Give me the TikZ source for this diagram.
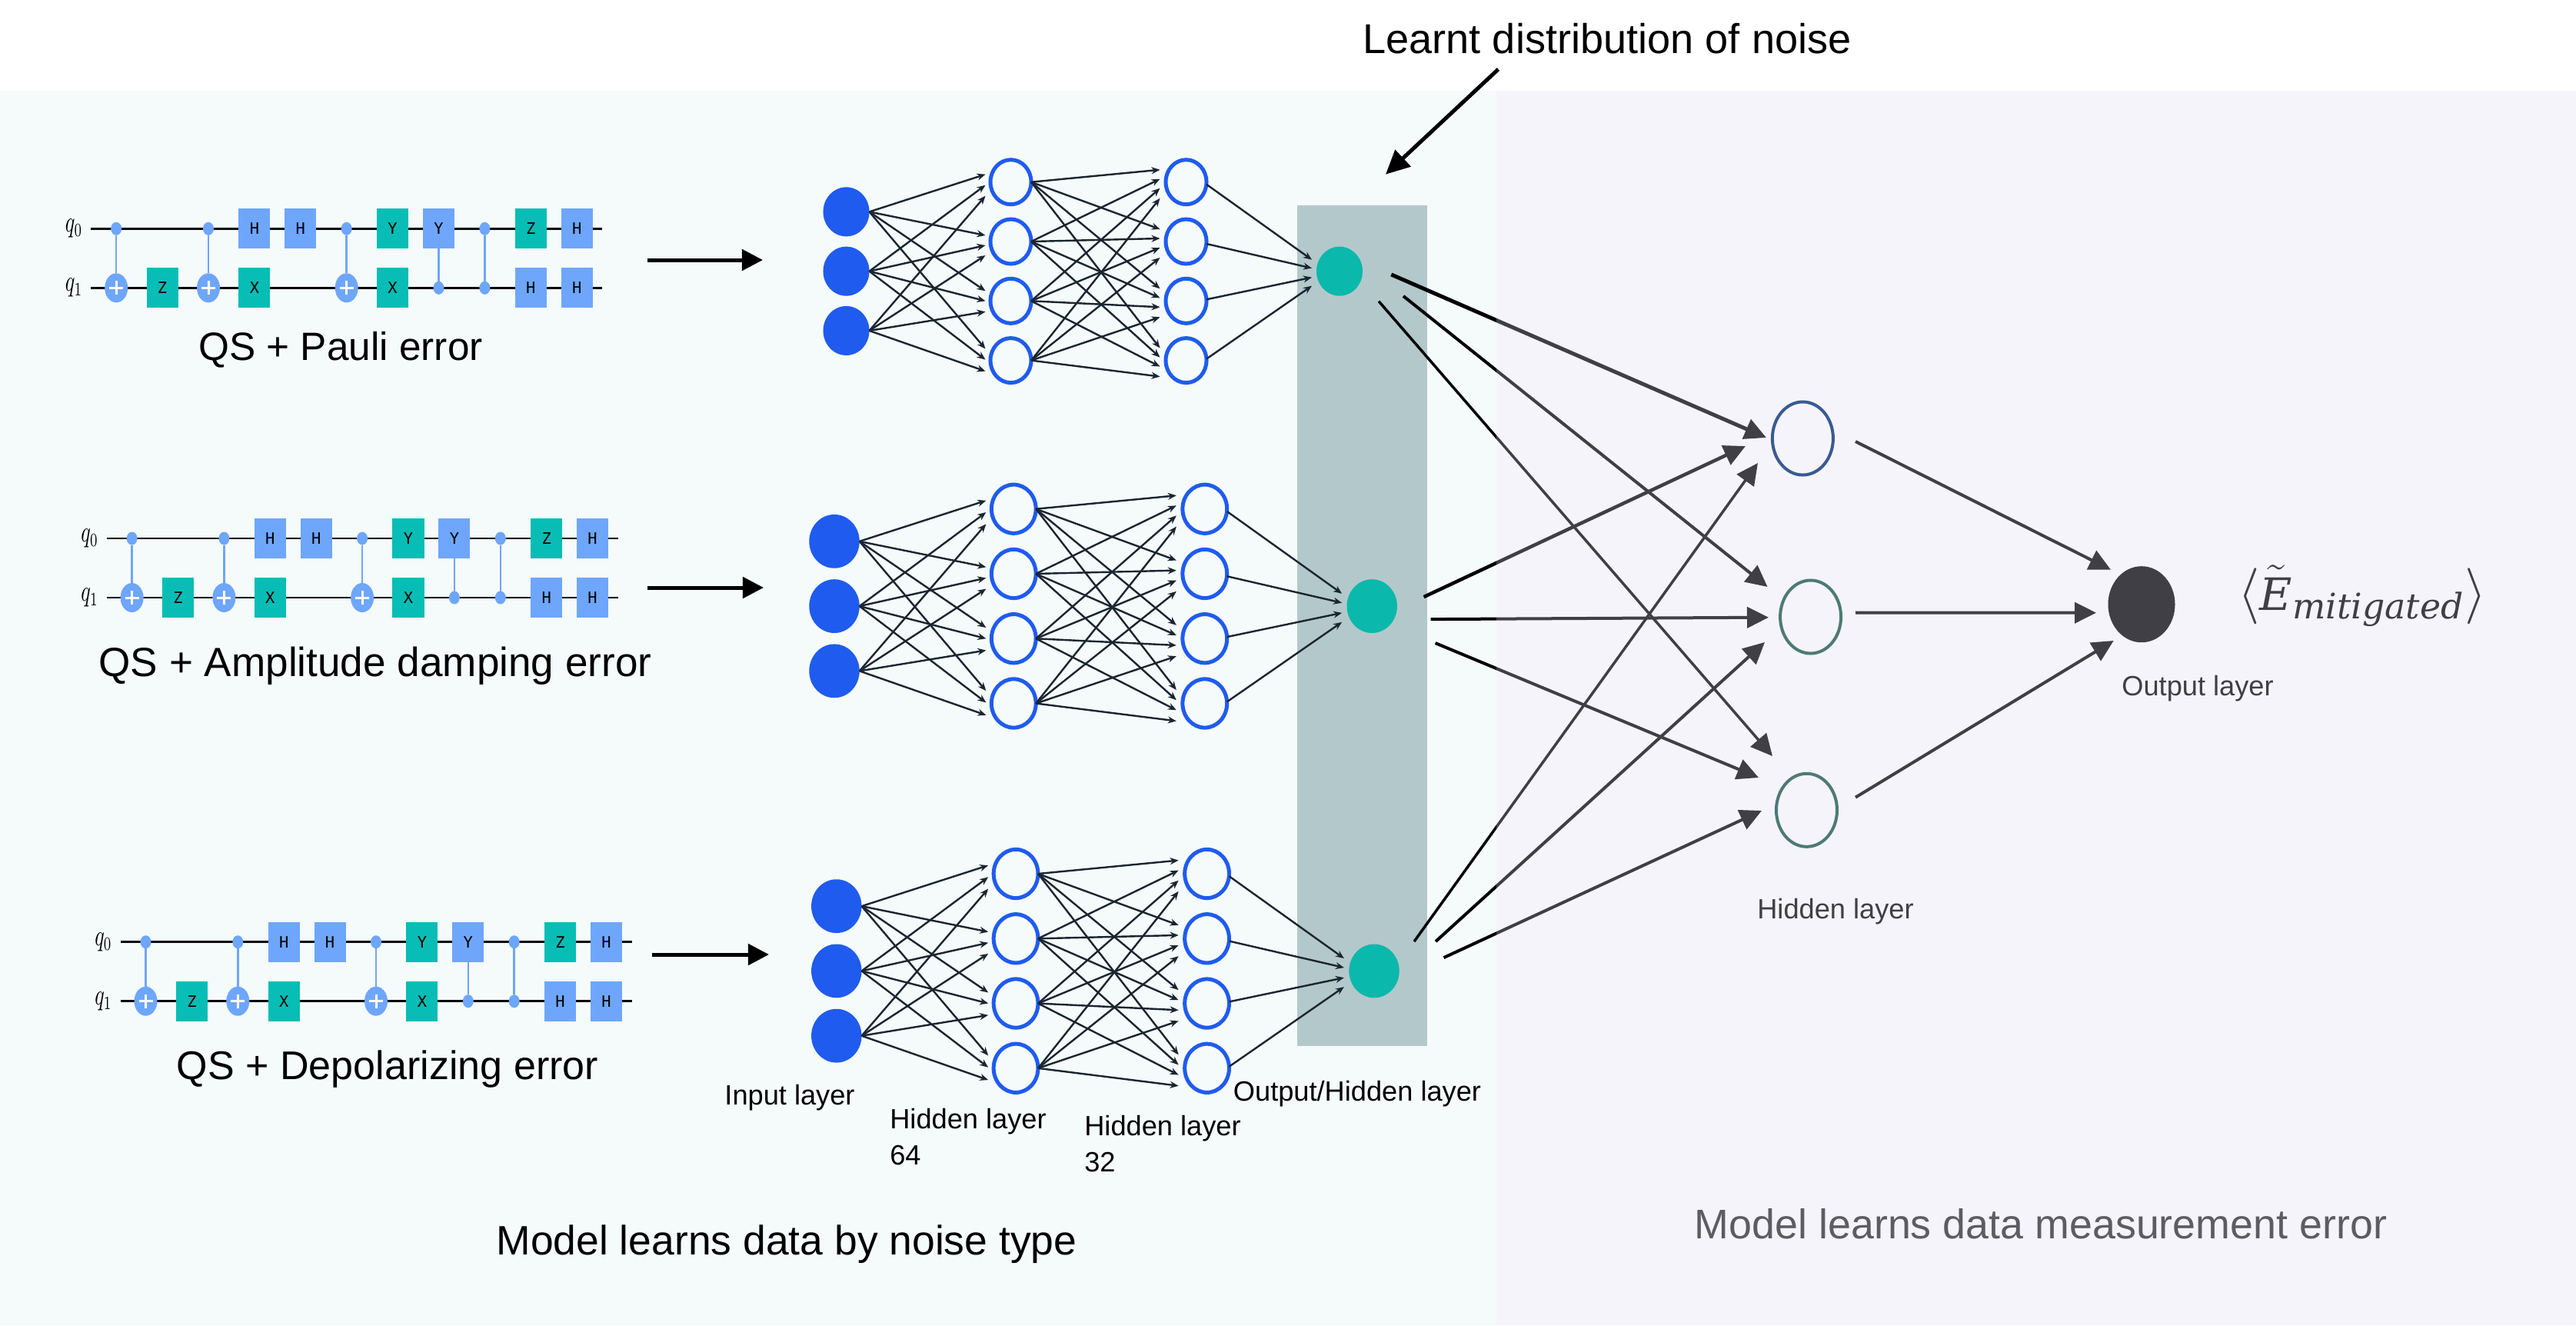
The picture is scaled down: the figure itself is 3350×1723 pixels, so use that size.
\documentclass[tikz,border=0pt]{standalone}
\usepackage{amsmath}
\usepackage{fontspec}
\setmainfont{Liberation Sans}
\newfontfamily\gatefont{DejaVu Sans Mono}
\newfontfamily\emitfont{DejaVu Serif}
\usetikzlibrary{arrows.meta,calc,shapes.geometric}

\definecolor{leftpanel}{HTML}{F5FBFB}
\definecolor{veilcol}{RGB}{221,218,241}
\definecolor{noiseband}{HTML}{B3C8CB}
\definecolor{gateblue}{HTML}{6EA6FB}
\definecolor{gateteal}{HTML}{08BDB5}
\definecolor{netblue}{HTML}{1F5BEE}
\definecolor{netteal}{HTML}{0BB8AC}
\definecolor{edgedark}{HTML}{1B2530}
\definecolor{slate}{HTML}{403F46}
\definecolor{ringnavy}{HTML}{3A5A92}
\definecolor{ringgreen}{HTML}{4D7A75}

\pgfdeclarelayer{panels}
\pgfdeclarelayer{links}
\pgfdeclarelayer{veil}
\pgfsetlayers{panels,links,veil,main}

\begin{document}
\begin{tikzpicture}[x=0.01cm,y=-0.01cm]
    \tikzstyle{every node}=[inner sep=0pt,outer sep=0pt]
    \tikzstyle{gatebox}=[rectangle,minimum width=0.41cm,minimum height=0.52cm,
        font=\gatefont\fontsize{5.8}{7}\selectfont]
    \tikzstyle{bluegate}=[gatebox,fill=gateblue]
    \tikzstyle{tealgate}=[gatebox,fill=gateteal]
    \tikzstyle{ctrldot}=[ellipse,fill=gateblue,minimum width=0.14cm,minimum height=0.17cm]
    \tikzstyle{targetdot}=[ellipse,fill=gateblue,minimum width=0.30cm,minimum height=0.38cm,
        path picture={\draw[white,line width=0.03cm]
            (path picture bounding box.center) +(-9,0) -- +(9,0)
            (path picture bounding box.center) +(0,-9) -- +(0,9);}]
    \tikzstyle{wireline}=[black,line width=0.027cm]
    \tikzstyle{ctrlline}=[gateblue,line width=0.025cm]
    \tikzstyle{qlabel}=[font=\fontsize{10.5}{12}\selectfont]
    \tikzstyle{inputnode}=[ellipse,fill=netblue,minimum width=\ns*0.60cm,minimum height=\ns*0.64cm]
    \tikzstyle{ringnode}=[ellipse,draw=netblue,line width=0.05cm,
        minimum width=\ns*0.53cm,minimum height=\ns*0.58cm]
    \tikzstyle{outnode}=[ellipse,fill=netteal,minimum width=\ns*0.60cm,minimum height=\ns*0.64cm]
    \tikzstyle{netedge}=[edgedark,line width=0.024cm,-{Stealth[length=0.11cm,width=0.09cm]}]
    \tikzstyle{flowarrow}=[black,line width=0.05cm,-{Triangle[length=0.27cm,width=0.27cm]}]
    \tikzstyle{bigedge}=[black,line width=0.04cm,-{Triangle[length=0.28cm,width=0.27cm]}]
    \tikzstyle{mesurering}=[ellipse,fill=none,line width=0.04cm,minimum width=0.79cm,minimum height=0.95cm]
    \tikzstyle{layertext}=[font=\fontsize{10.3}{12}\selectfont,align=left]

    \useasboundingbox (0,0) rectangle (3350,1723);

    \begin{pgfonlayer}{panels}
        \fill[leftpanel] (0,118) rectangle (1946,1723);
        \fill[noiseband] (1687,267) rectangle (1856,1360);
    \end{pgfonlayer}
    \begin{pgfonlayer}{veil}
        \fill[veilcol,opacity=0.29] (1946,118) rectangle (3350,1723);
    \end{pgfonlayer}

    \foreach \cn/\cx/\cy in {a/151.2/297.3,b/171.6/700,c/189.5/1224.7} {
        \begin{scope}[shift={(\cx,\cy)}]
            \node[qlabel] (\cn q0) at (-55,0) {\scalebox{0.68}[1]{$q_0$}};
            \node[qlabel] (\cn q1) at (-55,77) {\scalebox{0.68}[1]{$q_1$}};
            \coordinate (\cn w0a) at (-33,0);
            \coordinate (\cn w0b) at (632,0);
            \coordinate (\cn w1a) at (-33,77);
            \coordinate (\cn w1b) at (632,77);
            \draw[wireline] (\cn w0a) -- (\cn w0b);
            \draw[wireline] (\cn w1a) -- (\cn w1b);

            \foreach \col in {0,2,5} {
                \node[ctrldot] (\cn c\col) at (59.9*\col,0) {};
                \node[targetdot] (\cn t\col) at (59.9*\col,77) {};
                \draw[ctrlline] (\cn c\col) -- (\cn t\col);
            }

            \node[bluegate] (\cn g03) at (59.9*3,0) {H};
            \node[bluegate] (\cn g04) at (59.9*4,0) {H};
            \node[tealgate] (\cn g06) at (59.9*6,0) {Y};
            \node[bluegate] (\cn g07) at (59.9*7,0) {Y};
            \node[ctrldot] (\cn c8) at (59.9*8,0) {};
            \node[tealgate] (\cn g09) at (59.9*9,0) {Z};
            \node[bluegate] (\cn g010) at (59.9*10,0) {H};

            \node[tealgate] (\cn g11) at (59.9*1,77) {Z};
            \node[tealgate] (\cn g13) at (59.9*3,77) {X};
            \node[tealgate] (\cn g16) at (59.9*6,77) {X};
            \node[ctrldot] (\cn c7) at (59.9*7,77) {};
            \node[ctrldot] (\cn d8) at (59.9*8,77) {};
            \node[bluegate] (\cn g19) at (59.9*9,77) {H};
            \node[bluegate] (\cn g110) at (59.9*10,77) {H};

            \draw[ctrlline] (\cn g07) -- (\cn c7);
            \draw[ctrlline] (\cn c8) -- (\cn d8);
        \end{scope}
    }

    \node[font=\fontsize{14.6}{17}\selectfont] (capa) at (443,455) {QS + Pauli error};
    \node[font=\fontsize{15.1}{17}\selectfont] (capb) at (488,866) {QS + Amplitude damping error};
    \node[font=\fontsize{14.8}{17}\selectfont] (capc) at (504,1390) {QS + Depolarizing error};

    \foreach \nn/\nx/\ny/\ns in {a/1100.5/236.7/1,b/1085/661.7/1.09,c/1087.8/1136/1.09} {
        \begin{scope}[shift={(\nx,\ny)},scale=\ns]
            \foreach \a in {1,2,3}
                \node[inputnode] (\nn i\a) at (0,{(\a-0.5)*77.3}) {};
            \foreach \j in {1,2,3,4} {
                \node[ringnode] (\nn h\j) at (214,{(\j-1)*77.3}) {};
                \node[ringnode] (\nn k\j) at (442,{(\j-1)*77.3}) {};
            }
            \node[outnode] (\nn o) at (641.5,115.95) {};

            \foreach \j/\oa/\ob/\oc in {1/-10/4/18,2/-8/5/18,3/-13/0/14,4/-15/-1/14} {
                \draw[netedge] (\nn i1.east) -- ($(\nn h\j.center)+(-33,\oa)$);
                \draw[netedge] (\nn i2.east) -- ($(\nn h\j.center)+(-33,\ob)$);
                \draw[netedge] (\nn i3.east) -- ($(\nn h\j.center)+(-33,\oc)$);
            }
            \foreach \j in {1,2,3,4} {
                \draw[netedge] (\nn h1.east) -- ($(\nn k\j.center)+(-34,-16)$);
                \draw[netedge] (\nn h2.east) -- ($(\nn k\j.center)+(-34,-4)$);
                \draw[netedge] (\nn h3.east) -- ($(\nn k\j.center)+(-34,8)$);
                \draw[netedge] (\nn h4.east) -- ($(\nn k\j.center)+(-34,21)$);
            }
            \draw[netedge] ($(\nn k1.east)+(0,3)$) -- ($(\nn o.center)+(-36,-15)$);
            \draw[netedge] ($(\nn k2.east)+(0,3)$) -- ($(\nn o.center)+(-36,-4)$);
            \draw[netedge] ($(\nn k3.east)+(0,-2)$) -- ($(\nn o.center)+(-36,8)$);
            \draw[netedge] ($(\nn k4.east)+(0,-2)$) -- ($(\nn o.center)+(-36,19)$);
        \end{scope}
    }

    \coordinate (flowa1) at (842,338);
    \coordinate (flowa2) at (992,338);
    \coordinate (flowb1) at (842,764);
    \coordinate (flowb2) at (993,764);
    \coordinate (flowc1) at (848,1241);
    \coordinate (flowc2) at (1000,1241);
    \draw[flowarrow] (flowa1) -- (flowa2);
    \draw[flowarrow] (flowb1) -- (flowb2);
    \draw[flowarrow] (flowc1) -- (flowc2);

    \node[font=\fontsize{15.4}{18}\selectfont] (learnt) at (2090,50) {Learnt distribution of noise};
    \coordinate (learnta) at (1948.5,90);
    \coordinate (learntb) at (1802,226.7);
    \draw[flowarrow,-{Triangle[length=0.31cm,width=0.29cm]}] (learnta) -- (learntb);

    \node[layertext] (inlab) at (1027,1427) {Input layer};
    \node[layertext] (hidlaba) at (1259,1478) {Hidden layer\\[1.5pt]64};
    \node[layertext] (hidlabb) at (1512,1487) {Hidden layer\\[1.5pt]32};
    \node[layertext] (outlab) at (1765,1422) {Output/Hidden layer};
    \node[font=\fontsize{15.2}{18}\selectfont] (modela) at (1023,1618) {Model learns data by noise type};

    \node[mesurering,draw=ringnavy] (r1) at (2344.4,570) {};
    \node[mesurering,draw=ringgreen] (r2) at (2354.6,802) {};
    \node[mesurering,draw=ringgreen] (r3) at (2349.5,1053.3) {};
    \node[ellipse,fill=slate,minimum width=0.87cm,minimum height=0.99cm] (dout) at (2785,785.7) {};

    \begin{pgfonlayer}{links}
        \draw[bigedge,line width=0.05cm] ($(ao)+(67.3,4.3)$) -- ($(r1)+(-47.4,-1)$);
        \draw[bigedge] ($(ao)+(83,32.3)$) -- ($(r2)+(-56,-39)$);
        \draw[bigedge,line width=0.035cm] ($(ao)+(51,39)$) -- ($(r3)+(-44.5,-70.3)$);
        \draw[bigedge] ($(bo)+(76.4,17)$) -- ($(r2)+(-54.6,0.7)$);
        \draw[bigedge,line width=0.045cm] ($(bo)+(67.4,-12)$) -- ($(r1)+(-74.4,10)$);
        \draw[bigedge] ($(bo)+(82.4,48)$) -- ($(r3)+(-62.5,-42.3)$);
        \draw[bigedge,line width=0.035cm] ($(co)+(52,-38.3)$) -- ($(r1)+(-58.4,32)$);
        \draw[bigedge] ($(co)+(80,-38.3)$) -- ($(r2)+(-59.6,33)$);
        \draw[bigedge] ($(co)+(90.5,-17.3)$) -- ($(r3)+(-58.5,0.7)$);
        \draw[bigedge] ($(r1)+(68.6,4)$) -- ($(dout)+(-40,-45)$);
        \draw[bigedge] ($(r2)+(58.4,-5.3)$) -- ($(dout)+(-59,11)$);
        \draw[bigedge] ($(r3)+(63.5,-16.6)$) -- ($(dout)+(-36.3,47.3)$);
    \end{pgfonlayer}

    \node[layertext,text=slate] (hidlabc) at (2387,1185) {Hidden layer};
    \node[layertext,text=slate] (outlabc) at (2858,895) {Output layer};
    \node[text=slate,font=\fontsize{20.74}{25}\selectfont] (emit) at (3072,775)
        {$\langle\tilde{\text{\emitfont\itshape\fontsize{16.5}{18}\selectfont E}}_{\text{\emitfont\itshape\fontsize{13}{15}\selectfont mitigated}}\rangle$};
    \node[font=\fontsize{15.3}{18}\selectfont,text=slate!85!white] (modelb) at (2654,1591) {Model learns data measurement error};
\end{tikzpicture}
\end{document}
